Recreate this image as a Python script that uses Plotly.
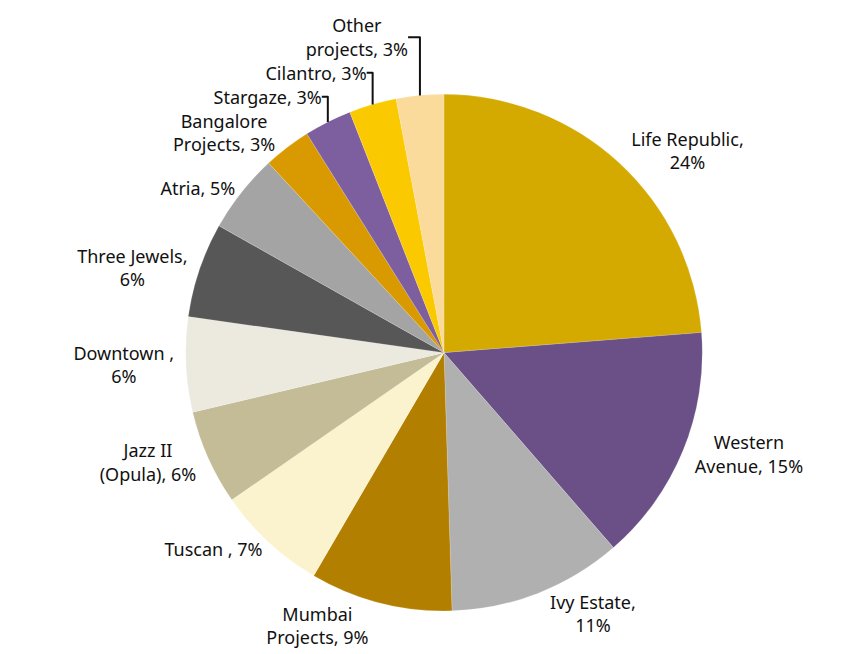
import plotly.graph_objects as go

projects = ["Life Republic", "Western Avenue", "Ivy Estate", "Mumbai Projects", "Tuscan ",
            "Jazz II (Opula)", "Downtown ", "Three Jewels", "Atria", "Bangalore Projects",
            "Stargaze", "Cilantro", "Other projects"]
label_text = ["Life Republic,<br>24%", "Western<br>Avenue, 15%", "Ivy Estate,<br>11%",
              "Mumbai<br>Projects, 9%", "Tuscan , 7%", "Jazz II<br>(Opula), 6%",
              "Downtown ,<br>6%", "Three Jewels,<br>6%", "Atria, 5%",
              "Bangalore<br>Projects, 3%", "Stargaze, 3%", "Cilantro, 3%",
              "Other<br>projects, 3%"]
shares = [24, 15, 11, 9, 7, 6, 6, 6, 5, 3, 3, 3, 3]
colors = ["#D4A900", "#6A5087", "#B0B0B0", "#B27F00", "#FBF3CE", "#C3BC97",
          "#ECE9DF", "#575757", "#A4A4A4", "#D89A00", "#7D5E9F", "#FBC900", "#FADB9B"]

fig = go.Figure(go.Pie(
    labels=projects,
    values=shares,
    text=label_text,
    textinfo="text",
    textposition="outside",
    sort=False,
    direction="clockwise",
    rotation=0,
    domain=dict(x=[0, 1], y=[0.07, 0.95]),
    marker=dict(colors=colors, line=dict(color="rgba(255,255,255,0.3)", width=0.5)),
    textfont=dict(family="'Noto Sans', 'DejaVu Sans', sans-serif", size=18, color="#111111"),
    showlegend=False,
    hoverinfo="label+percent",
))

fig.update_layout(
    width=861, height=654,
    margin=dict(l=10, r=10, t=10, b=10),
    paper_bgcolor="white",
    plot_bgcolor="white",
)

fig.write_html("out.html")
